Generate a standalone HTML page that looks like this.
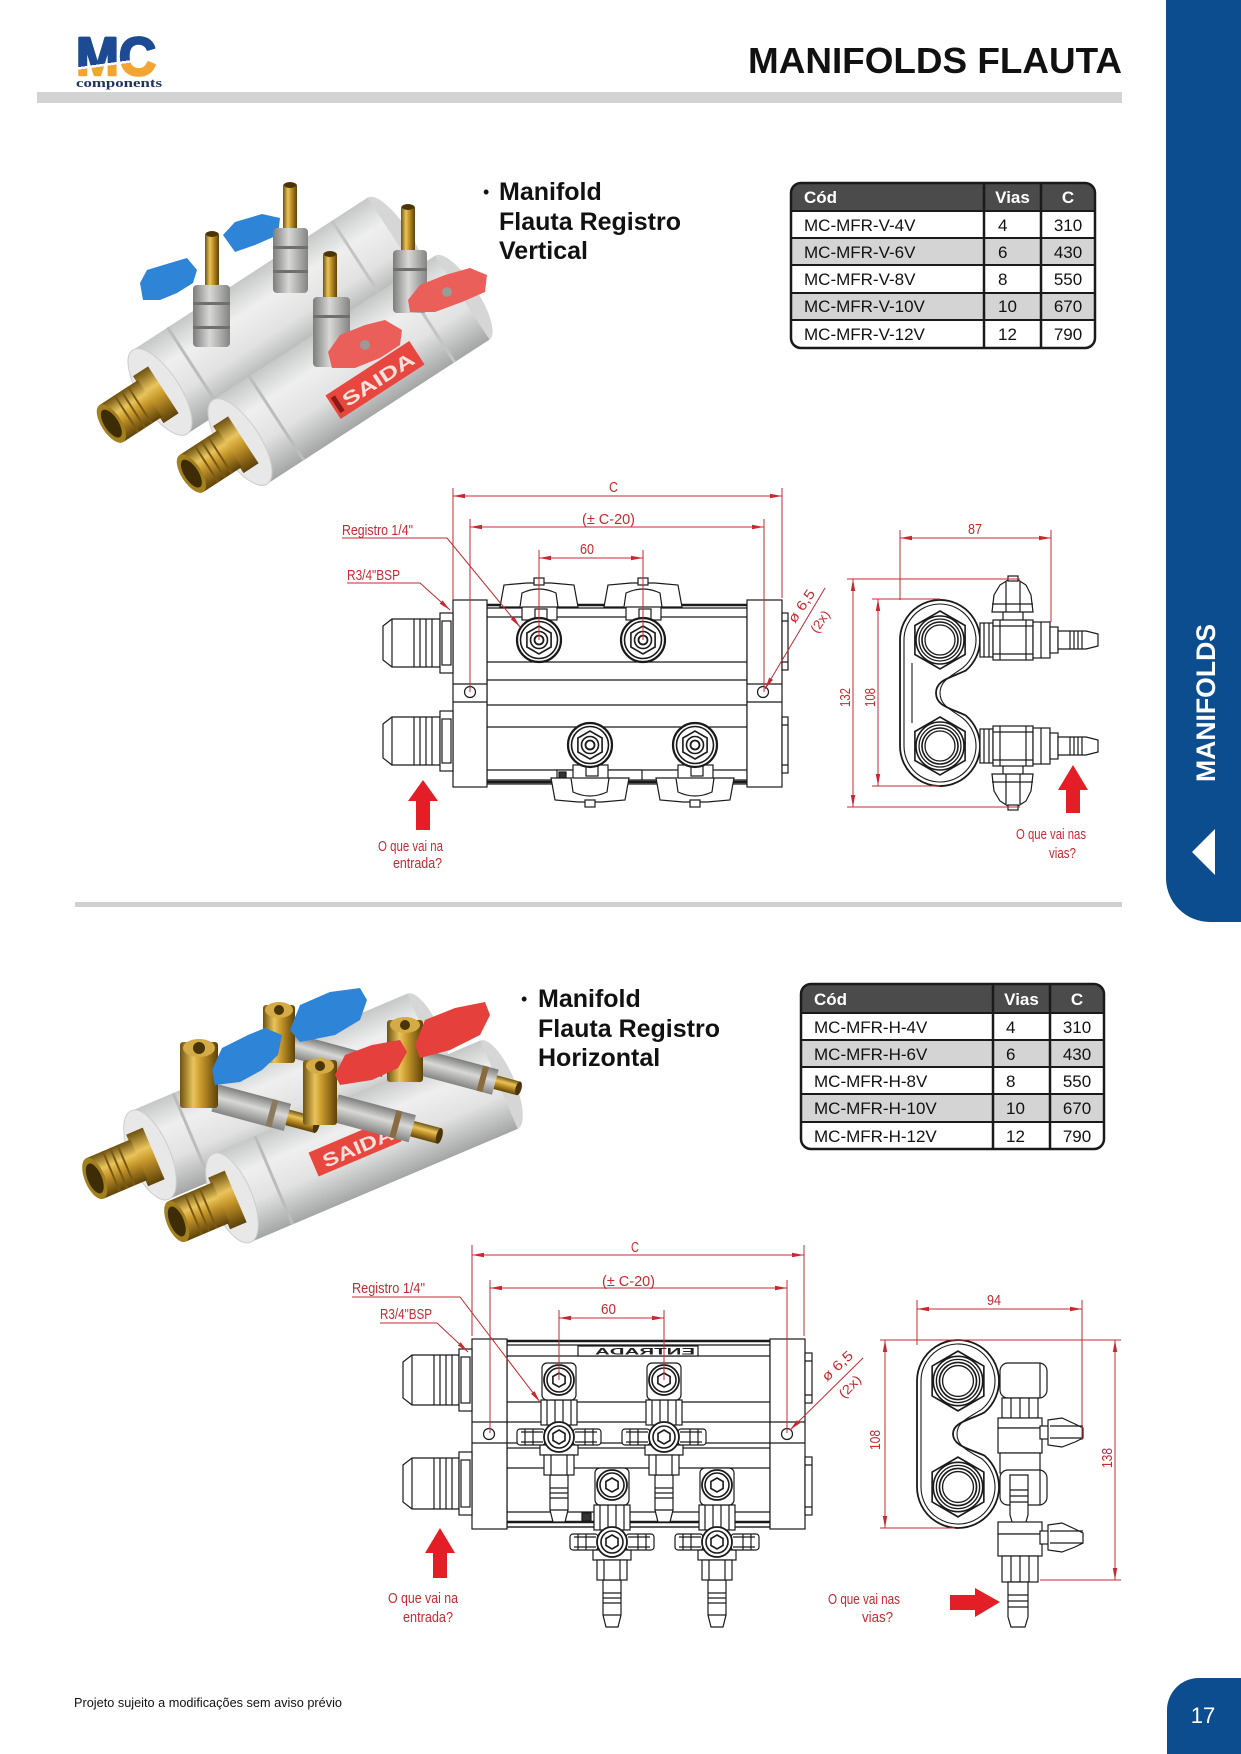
<!DOCTYPE html>
<html><head><meta charset="utf-8"><style>
html,body{margin:0;padding:0;background:#fff;}
svg{display:block;}
.d{font-family:"Liberation Sans Narrow","Liberation Sans",sans-serif;fill:#c62a30;}
.t{font-family:"Liberation Sans",sans-serif;}
</style></head><body>
<svg width="1241" height="1754" viewBox="0 0 1241 1754" xmlns="http://www.w3.org/2000/svg">
<defs>
<marker id="ar" viewBox="0 0 12 6" refX="12" refY="3" markerWidth="12" markerHeight="6" markerUnits="userSpaceOnUse" orient="auto-start-reverse"><path d="M0,0.8 L12,3 L0,5.2z" fill="#c62a30"/></marker>
<linearGradient id="tube" x1="0" y1="0" x2="0" y2="1"><stop offset="0" stop-color="#c6c8c8"/><stop offset=".3" stop-color="#efefef"/><stop offset=".62" stop-color="#e2e2e2"/><stop offset="1" stop-color="#a4a6a6"/></linearGradient>
<linearGradient id="brass" x1="0" y1="0" x2="0" y2="1"><stop offset="0" stop-color="#6e5210"/><stop offset=".35" stop-color="#e9c45c"/><stop offset=".55" stop-color="#c9992c"/><stop offset="1" stop-color="#5e4208"/></linearGradient>
<linearGradient id="brassv" x1="0" y1="0" x2="1" y2="0"><stop offset="0" stop-color="#6e5210"/><stop offset=".35" stop-color="#e9c45c"/><stop offset=".55" stop-color="#c9992c"/><stop offset="1" stop-color="#5e4208"/></linearGradient>
<linearGradient id="metal" x1="0" y1="0" x2="1" y2="0"><stop offset="0" stop-color="#7d7d7b"/><stop offset=".45" stop-color="#d8d8d6"/><stop offset="1" stop-color="#848482"/></linearGradient>
<linearGradient id="metalh" x1="0" y1="0" x2="0" y2="1"><stop offset="0" stop-color="#7d7d7b"/><stop offset=".45" stop-color="#d8d8d6"/><stop offset="1" stop-color="#848482"/></linearGradient>
<linearGradient id="logo" gradientUnits="userSpaceOnUse" x1="100" y1="40" x2="111" y2="122"><stop offset="0" stop-color="#1d4b93"/><stop offset=".29" stop-color="#1d4b93"/><stop offset=".29" stop-color="#ffffff"/><stop offset=".32" stop-color="#ffffff"/><stop offset=".32" stop-color="#f3a431"/><stop offset="1" stop-color="#f3a431"/></linearGradient>
<clipPath id="cv"><rect x="791" y="183" width="304" height="165" rx="10"/></clipPath>
<clipPath id="ch"><rect x="801" y="984" width="303" height="165" rx="10"/></clipPath>

<g id="fv1" fill="#fff" stroke="#1a1a1a" stroke-width="1.2">
 <path d="M-39,-33L-35,-55L-12,-57H12L35,-55L39,-33Z"/>
 <path d="M-19,-33L-17,-47Q0,-55 17,-47L19,-33"/>
 <rect x="-5" y="-62" width="10" height="7"/>
 <rect x="-17" y="-33" width="35" height="13"/>
 <rect x="-4" y="-31" width="12" height="10"/>
 <circle r="22" stroke-width="2.2"/>
 <circle r="18.5" stroke-width="1.6"/>
 <polygon points="0,-14 12.1,-7 12.1,7 0,14 -12.1,7 -12.1,-7" stroke-width="1.6"/>
 <circle r="8.5" stroke-width="1.6"/>
 <circle r="4.5" stroke-width="1.8"/>
</g>
<g id="sv1" fill="#fff" stroke="#1a1a1a" stroke-width="1.2">
 <rect x="23" y="-30" width="20" height="12"/>
 <path d="M12,-28L14,-45L20,-55L28,-60H38L46,-55L51,-45L53,-28Z"/>
 <path d="M26,-58V-28M40,-58V-28M12,-36H53" fill="none"/>
 <rect x="28" y="-64" width="10" height="5"/>
 <rect x="0" y="-17" width="13" height="34"/>
 <path d="M4,-17V17M9,-17V17" fill="none"/>
 <rect x="13" y="-20" width="40" height="40"/>
 <path d="M20,-20V20M46,-20V20M13,-14H53M13,14H53" fill="none"/>
 <rect x="53" y="-18" width="17" height="36"/>
 <path d="M61,-18V18" fill="none"/>
 <rect x="70" y="-13" width="8" height="26"/>
 <path d="M78,-9H106L118,-6V6L106,9H78Z"/>
 <path d="M90,-9V9M94,-9V9M98,-9V9M102,-9V9" fill="none"/>
</g>
<g id="fv2" fill="#fff" stroke="#1a1a1a" stroke-width="1.2">
 <path d="M-9,95V130L-6,142H6L9,130V95Z"/>
 <path d="M-9,108H9M-9,113H9M-9,118H9M-9,130H9" fill="none"/>
 <rect x="-19" y="65" width="38" height="10"/>
 <rect x="-15" y="75" width="30" height="20"/>
 <path d="M-8,75V95M8,75V95" fill="none"/>
 <rect x="-18" y="20" width="36" height="25"/>
 <path d="M-12,20V45M-4,20V45M4,20V45M12,20V45" fill="none"/>
 <rect x="-42" y="49" width="28" height="16" rx="3"/>
 <rect x="14" y="49" width="28" height="16" rx="3"/>
 <path d="M-34,49V65M-26,49V65M26,49V65M34,49V65M-38,52H-16M-38,62H-16M16,52H38M16,62H38" fill="none"/>
 <circle cx="0" cy="57" r="15" stroke-width="1.8"/>
 <circle cx="0" cy="57" r="11" stroke-width="1.6"/>
 <polygon points="0,50 6,53.5 6,60.5 0,64 -6,60.5 -6,53.5" stroke-width="1.6"/>
 <rect x="-17" y="-17" width="34" height="37" rx="5"/>
 <circle r="15" stroke-width="1.8"/>
 <circle r="12" stroke-width="1.6"/>
 <polygon points="0,-7 6.1,-3.5 6.1,3.5 0,7 -6.1,3.5 -6.1,-3.5" stroke-width="1.6"/>
</g>
<g id="lobe" fill="none" stroke="#1a1a1a" stroke-width="1.3">
 <polygon points="0,-29 25.1,-14.5 25.1,14.5 0,29 -25.1,14.5 -25.1,-14.5" stroke-width="1.6"/>
 <circle r="24" stroke-width="1.6"/>
 <circle r="21"/>
 <circle r="18" stroke-width="1.6"/>
 <circle r="15"/>
</g>
</defs>

<!-- HEADER -->
<path d="M1166,0H1241V922H1210A44,44 0 0 1 1166,878Z" fill="#0b4d8f"/>
<text class="t" transform="translate(1215,782) rotate(-90)" font-size="26.5" font-weight="bold" fill="#fff" textLength="158" lengthAdjust="spacingAndGlyphs">MANIFOLDS</text>
<polygon points="1192,852 1215,829 1215,875" fill="#fff"/>

<text class="t" x="76" y="75" font-size="54" font-weight="bold" fill="url(#logo)" stroke="url(#logo)" stroke-width="2.5" stroke-linejoin="round" textLength="80" lengthAdjust="spacingAndGlyphs">MC</text>
<text x="76" y="87" font-family="'Liberation Serif',serif" font-size="13" font-weight="bold" fill="#1f3560" textLength="86" lengthAdjust="spacingAndGlyphs">components</text>

<text class="t" x="748" y="73" font-size="36" font-weight="bold" fill="#111" textLength="374" lengthAdjust="spacingAndGlyphs">MANIFOLDS FLAUTA</text>
<rect x="37" y="92" width="1085" height="11" fill="#d3d3d3"/>

<!-- PRODUCT 1 -->
<g>
 <g transform="translate(160,392) rotate(-33)">
  <ellipse cx="280" cy="0" rx="16" ry="50" fill="#d6d6d6"/>
  <rect x="0" y="-50" width="280" height="100" fill="url(#tube)"/>
  <rect x="40" y="-50" width="3" height="100" fill="#bcbcbc"/>
  <rect x="236" y="-50" width="3" height="100" fill="#c4c4c4"/>
  <ellipse cx="0" cy="0" rx="20" ry="50" fill="#e8e8e8" stroke="#cdcdcd"/>
 </g>
 <polygon points="140,283 147,270 170,263 187,258 197,270 193,283 177,293 160,300 143,300" fill="#2e84d6"/>
 <polygon points="223,235 235,222 262,214 280,218 278,235 255,245 235,252" fill="#2e84d6"/>
 <rect x="205" y="232" width="14" height="55" rx="3" fill="url(#brassv)"/>
 <ellipse cx="212" cy="234" rx="6" ry="3" fill="#4a3508"/>
 <rect x="193" y="285" width="37" height="62" rx="4" fill="url(#metal)"/>
 <rect x="193" y="302" width="37" height="3" fill="#6f6f6d"/>
 <rect x="193" y="326" width="37" height="3" fill="#6f6f6d"/>
 <rect x="283" y="183" width="14" height="48" rx="3" fill="url(#brassv)"/>
 <ellipse cx="290" cy="185" rx="6" ry="3" fill="#4a3508"/>
 <rect x="273" y="228" width="35" height="65" rx="4" fill="url(#metal)"/>
 <rect x="273" y="246" width="35" height="3" fill="#6f6f6d"/>
 <rect x="273" y="270" width="35" height="3" fill="#6f6f6d"/>
 <g transform="translate(240,442) rotate(-33)">
  <ellipse cx="265" cy="0" rx="16" ry="50" fill="#d6d6d6"/>
  <rect x="0" y="-50" width="265" height="100" fill="url(#tube)"/>
  <rect x="42" y="-50" width="3" height="100" fill="#bcbcbc"/>
  <rect x="222" y="-50" width="3" height="100" fill="#c4c4c4"/>
  <ellipse cx="0" cy="0" rx="20" ry="50" fill="#e8e8e8" stroke="#cdcdcd"/>
 </g>
 <g transform="translate(375,380) rotate(-33)">
  <rect x="-50" y="-14" width="100" height="28" fill="#e8473f"/>
  <rect x="-47" y="-9" width="5" height="18" fill="#8a1a16"/>
  <text class="t" x="-38" y="8" font-size="19" font-weight="bold" fill="#fbe0dc" textLength="82" lengthAdjust="spacingAndGlyphs">SAIDA</text>
 </g>
 <rect x="323" y="252" width="14" height="48" rx="3" fill="url(#brassv)"/>
 <ellipse cx="330" cy="254" rx="6" ry="3" fill="#4a3508"/>
 <rect x="313" y="297" width="37" height="70" rx="4" fill="url(#metal)"/>
 <rect x="313" y="315" width="37" height="3" fill="#6f6f6d"/>
 <rect x="401" y="205" width="14" height="48" rx="3" fill="url(#brassv)"/>
 <ellipse cx="408" cy="207" rx="6" ry="3" fill="#4a3508"/>
 <rect x="393" y="250" width="34" height="63" rx="4" fill="url(#metal)"/>
 <rect x="393" y="268" width="34" height="3" fill="#6f6f6d"/>
 <polygon points="328,352 340,335 365,325 385,320 402,330 400,345 380,358 355,368 332,368" fill="#ea5f5a"/>
 <polygon points="408,300 420,285 445,275 470,268 487,275 485,292 462,302 435,312 410,312" fill="#ea5f5a"/>
 <circle cx="365" cy="345" r="5" fill="#9a9a98"/>
 <circle cx="447" cy="292" r="5" fill="#9a9a98"/>
 <g transform="translate(160,392) rotate(-33)">
  <rect x="-14" y="-28" width="18" height="56" fill="url(#brass)"/>
  <rect x="-58" y="-22" width="46" height="44" fill="url(#brass)"/>
  <path d="M-40,-22V22M-32,-22V22M-24,-22V22" stroke="#7a5a12" stroke-width="2"/>
  <ellipse cx="-58" cy="0" rx="10" ry="22" fill="#a3801e"/>
  <ellipse cx="-58" cy="0" rx="7" ry="16" fill="#3d2c06"/>
 </g>
 <g transform="translate(240,442) rotate(-33)">
  <rect x="-14" y="-28" width="18" height="56" fill="url(#brass)"/>
  <rect x="-58" y="-22" width="46" height="44" fill="url(#brass)"/>
  <path d="M-40,-22V22M-32,-22V22M-24,-22V22" stroke="#7a5a12" stroke-width="2"/>
  <ellipse cx="-58" cy="0" rx="10" ry="22" fill="#a3801e"/>
  <ellipse cx="-58" cy="0" rx="7" ry="16" fill="#3d2c06"/>
 </g>
</g>

<text class="t" x="483" y="198" font-size="18" fill="#111">•</text>
<text class="t" font-size="25" font-weight="bold" fill="#111"><tspan x="499" y="200">Manifold</tspan><tspan x="499" y="230">Flauta Registro</tspan><tspan x="499" y="259">Vertical</tspan></text>

<g clip-path="url(#cv)">
 <rect x="791" y="183" width="304" height="165" fill="#fff"/>
 <rect x="791" y="183" width="304" height="28" fill="#4b4b4b"/>
 <rect x="791" y="238" width="304" height="27" fill="#d4d4d4"/>
 <rect x="791" y="293" width="304" height="27" fill="#d4d4d4"/>
</g>
<path d="M791,211H1095M791,238H1095M791,265H1095M791,293H1095M791,320H1095" stroke="#1a1a1a" stroke-width="2"/>
<path d="M984,183V348M1041,183V348" stroke="#1a1a1a" stroke-width="2.5"/>
<rect x="791" y="183" width="304" height="165" rx="10" fill="none" stroke="#1a1a1a" stroke-width="2.5"/>
<g class="t" font-size="17" fill="#111">
 <text x="804" y="203" font-weight="bold" fill="#fff">Cód</text>
 <text x="1012.5" y="203" font-weight="bold" fill="#fff" text-anchor="middle">Vias</text>
 <text x="1068" y="203" font-weight="bold" fill="#fff" text-anchor="middle">C</text>
 <text x="804" y="231">MC-MFR-V-4V</text><text x="998" y="231">4</text><text x="1068" y="231" text-anchor="middle">310</text>
 <text x="804" y="258">MC-MFR-V-6V</text><text x="998" y="258">6</text><text x="1068" y="258" text-anchor="middle">430</text>
 <text x="804" y="285">MC-MFR-V-8V</text><text x="998" y="285">8</text><text x="1068" y="285" text-anchor="middle">550</text>
 <text x="804" y="312">MC-MFR-V-10V</text><text x="998" y="312">10</text><text x="1068" y="312" text-anchor="middle">670</text>
 <text x="804" y="340">MC-MFR-V-12V</text><text x="998" y="340">12</text><text x="1068" y="340" text-anchor="middle">790</text>
</g>

<!-- FRONT VIEW V -->
<g fill="#fff" stroke="#1a1a1a" stroke-width="1.2">
 <rect x="487" y="605" width="260" height="179"/>
 <path d="M487,608H747M487,617H747M487,662H747M487,680H747M487,705H747M487,727H747M487,770H747M487,780H747" fill="none"/>
 <path d="M487,605H747M487,782H747" fill="none" stroke-width="2.6"/>
 <rect x="453" y="600" width="34" height="187"/>
 <rect x="747" y="600" width="35" height="187"/>
 <path d="M453,684H487M453,702H487M747,684H782M747,702H782" fill="none"/>
 <circle cx="470" cy="692" r="5.5"/>
 <circle cx="763" cy="692" r="5.5"/>
 <path d="M383,626L392,619H440V667H392L383,660Z"/>
 <path d="M392,619V667M414,619V667M420,619V667M426,619V667M432,619V667" fill="none"/>
 <rect x="440" y="613" width="13" height="60"/>
 <rect x="442" y="621" width="9" height="44"/>
 <path d="M383,724L392,717H440V765H392L383,758Z"/>
 <path d="M392,717V765M414,717V765M420,717V765M426,717V765M432,717V765" fill="none"/>
 <rect x="440" y="711" width="13" height="60"/>
 <rect x="442" y="719" width="9" height="44"/>
 <rect x="782" y="613" width="6" height="57"/>
 <rect x="782" y="717" width="6" height="56"/>
 <path d="M782,621H788M782,662H788M782,725H788M782,765H788" fill="none"/>
 <rect x="557" y="770" width="85" height="10"/>
 <rect x="559" y="772" width="7" height="7" fill="#333"/>
</g>
<use href="#fv1" transform="translate(539,640)"/>
<use href="#fv1" transform="translate(643,640)"/>
<use href="#fv1" transform="translate(590,745) scale(1,-1)"/>
<use href="#fv1" transform="translate(695,745) scale(1,-1)"/>

<g stroke="#c62a30" stroke-width="1" fill="none">
 <path d="M453,488V600M782,488V598M470,519V692M764,519V692M539,550V640M643,550V640"/>
 <line x1="453" y1="496" x2="782" y2="496" marker-start="url(#ar)" marker-end="url(#ar)"/>
 <line x1="470" y1="527" x2="764" y2="527" marker-start="url(#ar)" marker-end="url(#ar)"/>
 <line x1="539" y1="558" x2="643" y2="558" marker-start="url(#ar)" marker-end="url(#ar)"/>
 <polyline points="342,538 447,538 520,627" marker-end="url(#ar)"/>
 <polyline points="347,583 420,583 450,610" marker-end="url(#ar)"/>
 <line x1="825" y1="588" x2="765" y2="689" marker-end="url(#ar)"/>
</g>
<g class="d" font-size="15">
 <text x="609" y="492" textLength="9" lengthAdjust="spacingAndGlyphs">C</text>
 <text x="582" y="524" textLength="53" lengthAdjust="spacingAndGlyphs">(± C-20)</text>
 <text x="580" y="554" textLength="14" lengthAdjust="spacingAndGlyphs">60</text>
 <text x="342" y="535" textLength="71" lengthAdjust="spacingAndGlyphs">Registro 1/4"</text>
 <text x="347" y="580" textLength="53" lengthAdjust="spacingAndGlyphs">R3/4"BSP</text>
 <text transform="translate(795,624) rotate(-56)" font-size="14" textLength="37" lengthAdjust="spacingAndGlyphs">ø 6,5</text>
 <text transform="translate(817,634) rotate(-56)" font-size="13" textLength="24" lengthAdjust="spacingAndGlyphs">(2x)</text>
 <text x="378" y="851" textLength="65" lengthAdjust="spacingAndGlyphs">O que vai na</text>
 <text x="393" y="868" textLength="49" lengthAdjust="spacingAndGlyphs">entrada?</text>
</g>
<polygon points="423,780 438,801 430,801 430,830 416,830 416,801 408,801" fill="#e41e26"/>

<!-- SIDE VIEW V -->
<g fill="#fff" stroke="#1a1a1a">
 <path d="M900,640A40,40 0 1 1 965.7,670.6C950,678 936,680 936,693C936,706 950,708 965.7,715.4A40,40 0 1 1 900,746Z" stroke-width="1.8"/>
 <path d="M904,640A36,36 0 1 1 963.1,667.6C952,676 940,680 940,693C940,706 952,710 963.1,718.4A36,36 0 1 1 904,746Z" stroke-width="1.1" fill="none"/>
 <path d="M912,663V723" stroke-width="1.1" fill="none"/>
</g>
<use href="#lobe" transform="translate(940,640)"/>
<use href="#lobe" transform="translate(940,746)"/>
<use href="#sv1" transform="translate(980,640)"/>
<use href="#sv1" transform="translate(980,746) scale(1,-1)"/>
<g stroke="#c62a30" stroke-width="1" fill="none">
 <path d="M900,530V600M1051,530V622M847,579H1020M847,807H1020M872,599H940M872,786H940"/>
 <line x1="900" y1="538" x2="1051" y2="538" marker-start="url(#ar)" marker-end="url(#ar)"/>
 <line x1="853" y1="579" x2="853" y2="807" marker-start="url(#ar)" marker-end="url(#ar)"/>
 <line x1="878" y1="599" x2="878" y2="786" marker-start="url(#ar)" marker-end="url(#ar)"/>
</g>
<g class="d" font-size="15">
 <text x="968" y="534" textLength="14" lengthAdjust="spacingAndGlyphs">87</text>
 <text transform="translate(850,707) rotate(-90)" textLength="19" lengthAdjust="spacingAndGlyphs">132</text>
 <text transform="translate(875,707) rotate(-90)" textLength="19" lengthAdjust="spacingAndGlyphs">108</text>
 <text x="1016" y="839" textLength="70" lengthAdjust="spacingAndGlyphs">O que vai nas</text>
 <text x="1049" y="858" textLength="27" lengthAdjust="spacingAndGlyphs">vias?</text>
</g>
<polygon points="1073,765 1088,790 1080,790 1080,813 1066,813 1066,790 1058,790" fill="#e41e26"/>

<rect x="75" y="902" width="1047" height="5" fill="#d0d0d0"/>

<!-- PRODUCT 2 -->
<g>
 <g transform="translate(150,1155) rotate(-23)">
  <ellipse cx="300" cy="0" rx="16" ry="48" fill="#d6d6d6"/>
  <rect x="0" y="-48" width="300" height="96" fill="url(#tube)"/>
  <rect x="44" y="-48" width="3" height="96" fill="#bcbcbc"/>
  <ellipse cx="0" cy="0" rx="20" ry="48" fill="#e8e8e8" stroke="#cdcdcd"/>
 </g>
 <g transform="translate(232,1198) rotate(-23)">
  <ellipse cx="290" cy="0" rx="16" ry="48" fill="#d6d6d6"/>
  <rect x="0" y="-48" width="290" height="96" fill="url(#tube)"/>
  <rect x="44" y="-48" width="3" height="96" fill="#bcbcbc"/>
  <ellipse cx="0" cy="0" rx="20" ry="48" fill="#e8e8e8" stroke="#cdcdcd"/>
 </g>
 <g transform="translate(355,1147) rotate(-23)">
  <rect x="-45" y="-13" width="90" height="26" fill="#e8473f"/>
  <text class="t" x="-35" y="8" font-size="19" font-weight="bold" fill="#fbe0dc" textLength="75" lengthAdjust="spacingAndGlyphs">SAIDA</text>
 </g>
 <g transform="translate(290,1045) rotate(15)"><rect x="0" y="-12" width="75" height="24" fill="url(#metalh)"/><rect x="75" y="-7" width="22" height="14" fill="url(#brass)"/></g>
 <rect x="263" y="1005" width="32" height="58" rx="3" fill="url(#brassv)"/>
 <ellipse cx="279" cy="1010" rx="14" ry="8" fill="#d4ab45"/><circle cx="279" cy="1010" r="5" fill="#4a3508"/>
 <polygon points="290,1030 300,1005 330,992 360,988 367,1000 360,1020 335,1035 300,1042" fill="#2e84d6"/>
 <g transform="translate(420,1062) rotate(15)"><rect x="0" y="-13" width="78" height="26" fill="url(#metalh)"/><rect x="62" y="-13" width="6" height="26" fill="#8a6a40"/><rect x="78" y="-7" width="24" height="14" fill="url(#brass)"/><ellipse cx="102" cy="0" rx="3" ry="7" fill="#4a3508"/></g>
 <rect x="387" y="1020" width="36" height="62" rx="3" fill="url(#brassv)"/>
 <ellipse cx="405" cy="1025" rx="15" ry="8" fill="#d4ab45"/><circle cx="405" cy="1025" r="5" fill="#4a3508"/>
 <polygon points="415,1045 425,1020 455,1008 485,1002 490,1015 480,1035 450,1050 420,1058" fill="#e5403c"/>
 <g transform="translate(215,1098) rotate(15)"><rect x="0" y="-14" width="75" height="28" fill="url(#metalh)"/><rect x="56" y="-14" width="6" height="28" fill="#8a7a60"/><rect x="75" y="-8" width="30" height="16" fill="url(#brass)"/><ellipse cx="105" cy="0" rx="3" ry="8" fill="#4a3508"/></g>
 <rect x="180" y="1042" width="38" height="66" rx="3" fill="url(#brassv)"/>
 <ellipse cx="199" cy="1048" rx="16" ry="9" fill="#d4ab45"/><circle cx="199" cy="1048" r="6" fill="#4a3508"/>
 <polygon points="212,1070 222,1048 248,1035 265,1028 282,1035 278,1055 262,1070 240,1082 215,1085" fill="#2e84d6"/>
 <g transform="translate(335,1108) rotate(15)"><rect x="0" y="-14" width="80" height="28" fill="url(#metalh)"/><rect x="60" y="-14" width="6" height="28" fill="#8a6a40"/><rect x="80" y="-8" width="28" height="16" fill="url(#brass)"/><ellipse cx="108" cy="0" rx="3" ry="8" fill="#4a3508"/></g>
 <rect x="303" y="1060" width="34" height="65" rx="3" fill="url(#brassv)"/>
 <ellipse cx="320" cy="1066" rx="14" ry="8" fill="#d4ab45"/><circle cx="320" cy="1066" r="5" fill="#4a3508"/>
 <polygon points="335,1075 345,1055 372,1045 400,1040 407,1052 398,1068 372,1080 340,1085" fill="#e5403c"/>
 <g transform="translate(150,1155) rotate(-23)">
  <rect x="-14" y="-28" width="18" height="56" fill="url(#brass)"/>
  <rect x="-60" y="-22" width="48" height="44" fill="url(#brass)"/>
  <path d="M-42,-22V22M-34,-22V22M-26,-22V22" stroke="#7a5a12" stroke-width="2"/>
  <ellipse cx="-60" cy="0" rx="10" ry="22" fill="#a3801e"/>
  <ellipse cx="-60" cy="0" rx="7" ry="16" fill="#3d2c06"/>
 </g>
 <g transform="translate(232,1198) rotate(-23)">
  <rect x="-14" y="-28" width="18" height="56" fill="url(#brass)"/>
  <rect x="-60" y="-22" width="48" height="44" fill="url(#brass)"/>
  <path d="M-42,-22V22M-34,-22V22M-26,-22V22" stroke="#7a5a12" stroke-width="2"/>
  <ellipse cx="-60" cy="0" rx="10" ry="22" fill="#a3801e"/>
  <ellipse cx="-60" cy="0" rx="7" ry="16" fill="#3d2c06"/>
 </g>
</g>

<text class="t" x="521" y="1005" font-size="18" fill="#111">•</text>
<text class="t" font-size="25" font-weight="bold" fill="#111"><tspan x="538" y="1007">Manifold</tspan><tspan x="538" y="1037">Flauta Registro</tspan><tspan x="538" y="1066">Horizontal</tspan></text>

<g clip-path="url(#ch)">
 <rect x="801" y="984" width="303" height="165" fill="#fff"/>
 <rect x="801" y="984" width="303" height="29" fill="#4b4b4b"/>
 <rect x="801" y="1040" width="303" height="27" fill="#d4d4d4"/>
 <rect x="801" y="1094" width="303" height="28" fill="#d4d4d4"/>
</g>
<path d="M801,1013H1104M801,1040H1104M801,1067H1104M801,1094H1104M801,1122H1104" stroke="#1a1a1a" stroke-width="2"/>
<path d="M993,984V1149M1050,984V1149" stroke="#1a1a1a" stroke-width="2.5"/>
<rect x="801" y="984" width="303" height="165" rx="10" fill="none" stroke="#1a1a1a" stroke-width="2.5"/>
<g class="t" font-size="17" fill="#111">
 <text x="814" y="1005" font-weight="bold" fill="#fff">Cód</text>
 <text x="1021.5" y="1005" font-weight="bold" fill="#fff" text-anchor="middle">Vias</text>
 <text x="1077" y="1005" font-weight="bold" fill="#fff" text-anchor="middle">C</text>
 <text x="814" y="1033">MC-MFR-H-4V</text><text x="1006" y="1033">4</text><text x="1077" y="1033" text-anchor="middle">310</text>
 <text x="814" y="1060">MC-MFR-H-6V</text><text x="1006" y="1060">6</text><text x="1077" y="1060" text-anchor="middle">430</text>
 <text x="814" y="1087">MC-MFR-H-8V</text><text x="1006" y="1087">8</text><text x="1077" y="1087" text-anchor="middle">550</text>
 <text x="814" y="1114">MC-MFR-H-10V</text><text x="1006" y="1114">10</text><text x="1077" y="1114" text-anchor="middle">670</text>
 <text x="814" y="1142">MC-MFR-H-12V</text><text x="1006" y="1142">12</text><text x="1077" y="1142" text-anchor="middle">790</text>
</g>

<!-- FRONT VIEW H -->
<g fill="#fff" stroke="#1a1a1a" stroke-width="1.2">
 <rect x="507" y="1341" width="263" height="186"/>
 <path d="M507,1345H770M507,1356H770M507,1402H770M507,1422H770M507,1443H770M507,1448H770M507,1468H770M507,1512H770M507,1527H770" fill="none"/>
 <path d="M507,1341H770M507,1522H770" fill="none" stroke-width="2.6"/>
 <rect x="578" y="1346" width="120" height="10"/>
 <rect x="472" y="1339" width="35" height="190"/>
 <rect x="770" y="1339" width="35" height="190"/>
 <path d="M472,1422H507M472,1443H507M770,1422H805M770,1443H805" fill="none"/>
 <circle cx="489" cy="1434" r="5.5"/>
 <circle cx="787" cy="1434" r="5.5"/>
 <path d="M403,1362L412,1355H459V1405H412L403,1398Z"/>
 <path d="M412,1355V1405M434,1355V1405M440,1355V1405M446,1355V1405M452,1355V1405" fill="none"/>
 <rect x="459" y="1349" width="13" height="62"/>
 <rect x="461" y="1357" width="9" height="46"/>
 <path d="M403,1465L412,1458H459V1509H412L403,1502Z"/>
 <path d="M412,1458V1509M434,1458V1509M440,1458V1509M446,1458V1509M452,1458V1509" fill="none"/>
 <rect x="459" y="1452" width="13" height="63"/>
 <rect x="461" y="1460" width="9" height="47"/>
 <rect x="805" y="1353" width="7" height="50"/>
 <rect x="805" y="1457" width="7" height="58"/>
 <path d="M805,1361H812M805,1395H812M805,1465H812M805,1507H812" fill="none"/>
 <rect x="582" y="1513" width="9" height="8" fill="#333"/>
</g>
<text class="t" transform="translate(695,1354.5) scale(-1,1)" font-size="9" font-weight="bold" fill="#222" textLength="100" lengthAdjust="spacingAndGlyphs">ENTRADA</text>
<use href="#fv2" transform="translate(559,1380)"/>
<use href="#fv2" transform="translate(664,1380)"/>
<use href="#fv2" transform="translate(612,1485)"/>
<use href="#fv2" transform="translate(717,1485)"/>

<g stroke="#c62a30" stroke-width="1" fill="none">
 <path d="M472,1245V1336M804,1245V1336M490,1280V1433M787,1280V1433M559,1310V1380M664,1310V1380"/>
 <line x1="472" y1="1255" x2="804" y2="1255" marker-start="url(#ar)" marker-end="url(#ar)"/>
 <line x1="490" y1="1288" x2="787" y2="1288" marker-start="url(#ar)" marker-end="url(#ar)"/>
 <line x1="559" y1="1318" x2="664" y2="1318" marker-start="url(#ar)" marker-end="url(#ar)"/>
 <polyline points="352,1297 460,1297 540,1402" marker-end="url(#ar)"/>
 <polyline points="380,1323 437,1323 468,1352" marker-end="url(#ar)"/>
 <line x1="863" y1="1358" x2="790" y2="1430" marker-end="url(#ar)"/>
</g>
<g class="d" font-size="15">
 <text x="631" y="1252" textLength="8" lengthAdjust="spacingAndGlyphs">C</text>
 <text x="602" y="1286" textLength="53" lengthAdjust="spacingAndGlyphs">(± C-20)</text>
 <text x="601" y="1314" textLength="15" lengthAdjust="spacingAndGlyphs">60</text>
 <text x="352" y="1293" textLength="73" lengthAdjust="spacingAndGlyphs">Registro 1/4"</text>
 <text x="380" y="1319" textLength="52" lengthAdjust="spacingAndGlyphs">R3/4"BSP</text>
 <text transform="translate(827,1382) rotate(-43)" font-size="14" textLength="37" lengthAdjust="spacingAndGlyphs">ø 6,5</text>
 <text transform="translate(844,1399) rotate(-46)" font-size="13" textLength="26" lengthAdjust="spacingAndGlyphs">(2x)</text>
 <text x="388" y="1603" textLength="70" lengthAdjust="spacingAndGlyphs">O que vai na</text>
 <text x="403" y="1622" textLength="50" lengthAdjust="spacingAndGlyphs">entrada?</text>
</g>
<polygon points="440,1528 455,1553 447,1553 447,1578 433,1578 433,1553 425,1553" fill="#e41e26"/>

<!-- SIDE VIEW H -->
<g fill="#fff" stroke="#1a1a1a">
 <path d="M917,1381A41,41 0 1 1 984.4,1412.4C970,1420 953,1422 953,1434C953,1446 970,1449 984.4,1455.6A41,41 0 1 1 917,1487Z" stroke-width="1.8"/>
 <path d="M921,1381A37,37 0 1 1 981.8,1409.3C968,1418 957,1422 957,1434C957,1446 968,1451 981.8,1458.7A37,37 0 1 1 921,1487Z" stroke-width="1.1" fill="none"/>
</g>
<use href="#lobe" transform="translate(958,1381) scale(1.03)"/>
<use href="#lobe" transform="translate(958,1487) scale(1.03)"/>
<g fill="#fff" stroke="#1a1a1a" stroke-width="1.2">
 <rect x="1000" y="1363" width="47" height="35" rx="8"/>
 <path d="M1040,1363V1398" fill="none"/>
 <rect x="1002" y="1398" width="36" height="20"/>
 <path d="M1011,1398V1418M1020,1398V1418M1029,1398V1418" fill="none"/>
 <rect x="998" y="1418" width="44" height="10"/>
 <rect x="998" y="1428" width="44" height="25"/>
 <rect x="1040" y="1426" width="10" height="13"/>
 <path d="M1048,1420L1062,1418L1075,1424L1083,1428V1438L1075,1442L1062,1447L1048,1445Z"/>
 <path d="M1050,1426H1083M1050,1438H1083" fill="none"/>
 <rect x="1000" y="1453" width="40" height="20"/>
 <rect x="1000" y="1470" width="47" height="35" rx="8"/>
 <path d="M1040,1470V1505" fill="none"/>
 <path d="M1010,1475V1515L1013,1525H1025L1028,1515V1475Z"/>
 <path d="M1010,1490H1028M1010,1496H1028M1010,1502H1028" fill="none"/>
 <rect x="998" y="1522" width="44" height="12"/>
 <rect x="998" y="1534" width="44" height="22"/>
 <rect x="1040" y="1531" width="10" height="13"/>
 <path d="M1048,1525L1062,1523L1075,1529L1083,1533V1543L1075,1547L1062,1552L1048,1550Z"/>
 <path d="M1050,1531H1083M1050,1543H1083" fill="none"/>
 <rect x="1002" y="1556" width="36" height="26"/>
 <path d="M1011,1556V1582M1020,1556V1582M1029,1556V1582" fill="none"/>
 <path d="M1008,1582V1617L1011,1627H1025L1028,1617V1582Z"/>
 <path d="M1008,1595H1028M1008,1601H1028M1008,1607H1028" fill="none"/>
</g>
<g stroke="#c62a30" stroke-width="1" fill="none">
 <path d="M917,1300V1345M1082,1300V1440M880,1340H1121M880,1528H955M1040,1580H1121"/>
 <line x1="917" y1="1309" x2="1082" y2="1309" marker-start="url(#ar)" marker-end="url(#ar)"/>
 <line x1="885" y1="1340" x2="885" y2="1528" marker-start="url(#ar)" marker-end="url(#ar)"/>
 <line x1="1115" y1="1340" x2="1115" y2="1580" marker-start="url(#ar)" marker-end="url(#ar)"/>
</g>
<g class="d" font-size="15">
 <text x="987" y="1305" textLength="14" lengthAdjust="spacingAndGlyphs">94</text>
 <text transform="translate(880,1450) rotate(-90)" textLength="20" lengthAdjust="spacingAndGlyphs">108</text>
 <text transform="translate(1112,1468) rotate(-90)" textLength="20" lengthAdjust="spacingAndGlyphs">138</text>
 <text x="828" y="1604" textLength="72" lengthAdjust="spacingAndGlyphs">O que vai nas</text>
 <text x="862" y="1622" textLength="31" lengthAdjust="spacingAndGlyphs">vias?</text>
</g>
<polygon points="1000,1602 975,1588 975,1595 950,1595 950,1610 975,1610 975,1617" fill="#e41e26"/>

<!-- FOOTER -->
<text class="t" x="74" y="1707" font-size="13" fill="#111" textLength="268" lengthAdjust="spacingAndGlyphs">Projeto sujeito a modificações sem aviso prévio</text>
<path d="M1167,1754V1710A32,32 0 0 1 1199,1678H1241V1754Z" fill="#0b4d8f"/>
<text class="t" x="1203" y="1723" font-size="22" fill="#fff" text-anchor="middle">17</text>
</svg>
</body></html>
